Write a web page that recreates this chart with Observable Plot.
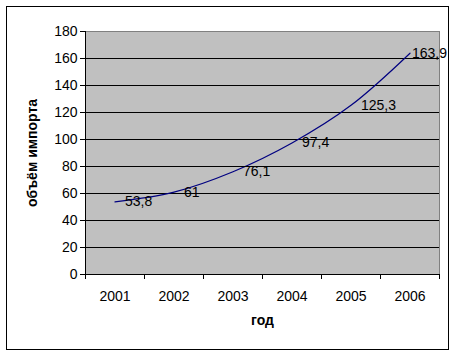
<!DOCTYPE html>
<html>
<head>
<meta charset="utf-8">
<script src="https://cdn.jsdelivr.net/npm/d3@7"></script>
<script src="https://cdn.jsdelivr.net/npm/@observablehq/plot@0.6"></script>
<style>
  html, body { margin: 0; padding: 0; background: #fff; }
  #wrap { position: relative; width: 457px; height: 357px; }
  #border { position: absolute; left: 6px; top: 6px; width: 443px; height: 344px; border: 1px solid #000; box-sizing: border-box; pointer-events: none; }
  #chart svg { display: block; }
</style>
</head>
<body>
<div id="wrap"><div id="chart"></div><div id="border"></div></div>
<script>
const years = [2001, 2002, 2003, 2004, 2005, 2006];
const values = [53.8, 61, 76.1, 97.4, 125.3, 163.9];
const labels = ["53,8", "61", "76,1", "97,4", "125,3", "163,9"];
const yTicks = [0, 20, 40, 60, 80, 100, 120, 140, 160, 180];
const xTitle = "год";
const yTitle = "объём импорта";

const data = years.map((year, i) => ({year, value: values[i], label: labels[i]}));
const xDomain = [years[0] - 0.5, years[years.length - 1] + 0.5];
const xBounds = years.map(y => y - 0.5).concat([years[years.length - 1] + 0.5]);

const chart = Plot.plot({
  width: 457,
  height: 357,
  marginLeft: 85,
  marginRight: 18,
  marginTop: 31,
  marginBottom: 83,
  style: {fontFamily: "'Liberation Sans', Arial, sans-serif", fontSize: "14px", color: "#000", background: "transparent"},
  x: {type: "linear", domain: xDomain},
  y: {domain: [0, 180]},
  marks: [
    Plot.frame({fill: "#c0c0c0", stroke: "#808080"}),
    Plot.ruleY(yTicks.filter(v => v > 0 && v < 180), {stroke: "#000", strokeWidth: 1}),
    Plot.ruleY([0], {stroke: "#000"}),
    Plot.ruleX([xDomain[0]], {stroke: "#000"}),
    Plot.axisY({ticks: yTicks, tickSize: 5, tickPadding: 3, label: null, stroke: "#000", fontSize: 14}),
    Plot.axisX({ticks: xBounds, tickSize: 5, tickFormat: () => "", label: null, stroke: "#000"}),
    Plot.axisX({ticks: years, tickSize: 0, tickPadding: 17, tickFormat: d => String(d), label: null, fontSize: 14}),
    Plot.line(data, {x: "year", y: "value", curve: "catmull-rom", stroke: "#000080", strokeWidth: 1.2}),
    Plot.text(data.slice(0, -1), {x: "year", y: "value", text: "label", textAnchor: "start", dx: 10, fill: "#000", fontSize: 14}),
    Plot.text(data.slice(-1), {x: "year", y: "value", text: "label", textAnchor: "start", dx: 2, fill: "#000", fontSize: 14}),
    Plot.text([xTitle], {frameAnchor: "bottom", dy: 50, text: d => d, fontWeight: "bold", fontSize: 14, fill: "#000"}),
    Plot.text([yTitle], {frameAnchor: "left", dx: -53, rotate: -90, textAnchor: "middle", text: d => d, fontWeight: "bold", fontSize: 14, fill: "#000"})
  ]
});
document.getElementById("chart").appendChild(chart);
</script>
</body>
</html>
